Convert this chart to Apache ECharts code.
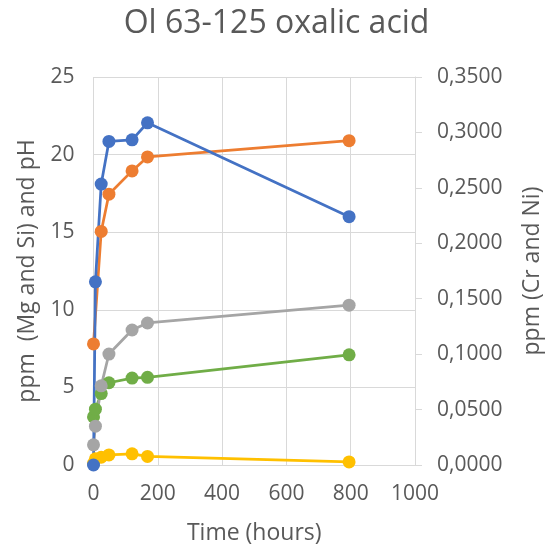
<!DOCTYPE html>
<html>
<head>
<meta charset="utf-8">
<script src="https://cdn.jsdelivr.net/npm/echarts@6/dist/echarts.min.js"></script>
<style>
  html, body { margin: 0; padding: 0; background: #fff; }
  #chart { width: 553px; height: 556px; }
</style>
</head>
<body>
<div id="chart"></div>
<script>
// Sampling times (hours) and measured values per element
const timesAll = [0, 6, 24, 48, 120, 168, 795];
const timesSi = [0, 24, 48, 120, 168, 795];
const mgValues = [0, 11.8, 18.1, 20.85, 20.95, 22.05, 16.0];
const siValues = [7.8, 15.05, 17.45, 18.95, 19.85, 20.9];
const phValues = [1.3, 2.5, 5.1, 7.15, 8.7, 9.15, 10.3];
const crValues = [3.1, 3.6, 4.6, 5.3, 5.6, 5.65, 7.1];
const niValues = [0.1, 0.4, 0.5, 0.65, 0.72, 0.55, 0.2];

const xTicks = [0, 200, 400, 600, 800, 1000];
const leftTicks = [0, 5, 10, 15, 20, 25];
const rightTicks = [0, 0.05, 0.1, 0.15, 0.2, 0.25, 0.3, 0.35];

const pair = (t, v) => t.map((x, i) => [x, v[i]]);

const textColor = '#595959';
const gridColor = '#d9d9d9';
const font = 'Open Sans';
const tickFont = 21;
const nameFont = 23;

function lineSeries(name, color, data) {
  return {
    name: name,
    type: 'line',
    data: data,
    yAxisIndex: 0,
    symbol: 'circle',
    symbolSize: 13,
    lineStyle: { color: color, width: 2.75 },
    itemStyle: { color: color },
    emphasis: { disabled: true },
    animation: false
  };
}

const chart = echarts.init(document.getElementById('chart'), null, { renderer: 'canvas' });
chart.setOption({
  backgroundColor: '#ffffff',
  title: {
    text: 'Ol 63-125 oxalic acid',
    left: 'center',
    top: 3,
    textStyle: { fontFamily: font, fontSize: 32, fontWeight: 'normal', color: textColor }
  },
  grid: { left: 93.5, right: 138, top: 77, bottom: 91 },
  xAxis: {
    type: 'value',
    min: xTicks[0],
    max: xTicks[xTicks.length - 1],
    interval: 200,
    name: 'Time (hours)',
    nameLocation: 'middle',
    nameGap: 57,
    nameTextStyle: { fontFamily: font, fontSize: nameFont, color: textColor },
    axisLine: { show: true, lineStyle: { color: gridColor, width: 1 } },
    axisTick: { show: false },
    axisLabel: { fontFamily: font, fontSize: tickFont, color: textColor, margin: 19,
      formatter: v => String(v) },
    splitLine: { show: true, lineStyle: { color: gridColor, width: 1 } }
  },
  yAxis: [
    {
      type: 'value',
      position: 'left',
      min: leftTicks[0],
      max: leftTicks[leftTicks.length - 1],
      interval: 5,
      name: 'ppm  (Mg and Si) and pH',
      nameLocation: 'middle',
      nameGap: 55,
      nameTextStyle: { fontFamily: font, fontSize: nameFont, color: textColor },
      axisLine: { show: false },
      axisTick: { show: false },
      axisLabel: { fontFamily: font, fontSize: tickFont, color: textColor, margin: 19 },
      splitLine: { show: true, lineStyle: { color: gridColor, width: 1 } }
    },
    {
      type: 'value',
      position: 'right',
      min: rightTicks[0],
      max: rightTicks[rightTicks.length - 1],
      interval: 0.05,
      name: 'ppm (Cr and Ni)',
      nameLocation: 'middle',
      nameGap: 106,
      nameRotate: 90,
      nameTextStyle: { fontFamily: font, fontSize: nameFont, color: textColor },
      axisLine: { show: true, lineStyle: { color: gridColor, width: 1 } },
      axisTick: { show: true, length: 7, lineStyle: { color: gridColor } },
      axisLabel: {
        fontFamily: font, fontSize: tickFont, color: textColor, margin: 22,
        formatter: v => v.toFixed(4).replace('.', ',')
      },
      splitLine: { show: false }
    }
  ],
  series: [
    lineSeries('Ni', '#FFC000', pair(timesAll, niValues)),
    lineSeries('Cr', '#70AD47', pair(timesAll, crValues)),
    lineSeries('pH', '#A5A5A5', pair(timesAll, phValues)),
    lineSeries('Si', '#ED7D31', pair(timesSi, siValues)),
    lineSeries('Mg', '#4472C4', pair(timesAll, mgValues))
  ]
});
</script>
</body>
</html>
